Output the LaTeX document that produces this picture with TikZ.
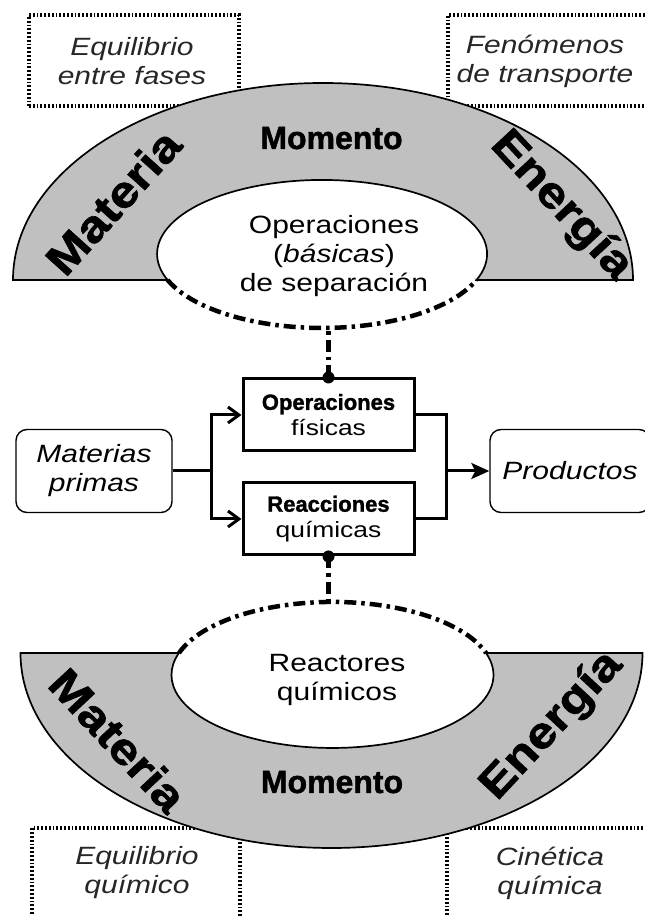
\documentclass[tikz,border=0pt]{standalone}
\usepackage{fontspec}
\setmainfont{Liberation Sans}[FakeStretch=1.2]
\newfontfamily\blackfont{Liberation Sans Bold}[FakeBold=1.5]
\newfontfamily\wideblack{Liberation Sans Bold}[FakeBold=1.5, FakeStretch=1.15]
\usetikzlibrary{arrows.meta,positioning}
\definecolor{bandgray}{RGB}{192,192,192}

\begin{document}
\begin{tikzpicture}[x=1pt,y=1pt,
  band/.style = {draw, fill=bandgray, line width=1.7pt},
  rim/.style = {line width=4.5pt, dash pattern=on 12pt off 5pt on 3.5pt off 5pt},
  dotbox/.style = {draw, line width=3.2pt, dash pattern=on 1.8pt off 2pt, inner sep=0pt},
  note/.style = {align=center, text=black!85, font=\fontsize{25}{29}\selectfont\itshape},
  bigword/.style = {font=\wideblack\fontsize{44}{44}\selectfont},
  midword/.style = {font=\blackfont\fontsize{32}{32}\selectfont, anchor=base},
  inner/.style = {align=center, font=\fontsize{25}{29}\selectfont},
  proc/.style = {draw, line width=3pt, minimum width=171pt, minimum height=72pt, inner sep=0pt, align=center, font=\fontsize{22}{26}\selectfont},
  term/.style = {draw, line width=1.4pt, rounded corners=11pt, minimum height=83pt, inner sep=0pt, align=center, font=\fontsize{25}{29}\selectfont\itshape},
  flow/.style = {line width=3pt},
  >={Straight Barb[length=11pt,width=16pt]}
]
\useasboundingbox (0,0) rectangle (645,916);
\clip (0,0) rectangle (645,916);

% cajas punteadas
\node[dotbox, minimum width=210pt, minimum height=91pt] (fasesbox) at (134,855.5) {};
\node[dotbox, minimum width=260pt, minimum height=91pt] (transpbox) at (578,855.5) {};
\node[dotbox, minimum width=208pt, minimum height=108pt] (eqqbox) at (136,34) {};
\node[dotbox, minimum width=253pt, minimum height=108pt] (cinbox) at (573.5,34) {};
\node[note] (fases) at (132,855) {Equilibrio\\entre fases};
\node[note] (transp) at (545,855) {Fenómenos\\de transporte};
\node[note] (eqq) at (137,43) {Equilibrio\\químico};
\node[note] (cin) at (550,43) {Cinética\\química};

% banda superior
\draw[band] (13,636) arc[start angle=180, end angle=0, x radius=310, y radius=197]
  -- (476.5,636) arc[start angle=-20.6, end angle=200.6, x radius=165, y radius=74] -- cycle;
\draw[rim] (167.6,636) arc[start angle=200.6, end angle=339.4, x radius=165, y radius=74];
\node[inner] (sep) at (334,660) {Operaciones\\(\textit{básicas})\\de separación};
\node[midword] (momtop) at (331.5,767) {Momento};
\node[bigword, rotate=48] (mattop) at (113,714) {Materia};
\node[bigword, rotate=-47] (enetop) at (561,710) {Energía};

% banda inferior
\draw[band] (20.5,263) arc[start angle=180, end angle=360, x radius=311, y radius=195]
  -- (486,263) arc[start angle=17.5, end angle=-197.5, x radius=161, y radius=73] -- cycle;
\draw[rim] (179,263) arc[start angle=162.5, end angle=17.5, x radius=161, y radius=73];
\node[inner] (reac) at (337,236) {Reactores\\químicos};
\node[midword] (mombot) at (332,123) {Momento};
\node[bigword, rotate=-47] (matbot) at (118,176) {Materia};
\node[bigword, rotate=47] (enebot) at (552,190) {Energía};

% proceso
\node[proc] (ops) at (328.5,501) {{\blackfont\fontsize{22}{26}\selectfont Operaciones}\\físicas};
\node[proc] (rea) [below of=ops, node distance=104pt] {{\blackfont\fontsize{22}{26}\selectfont Reacciones}\\químicas};
\node[term, minimum width=156pt] (mat) at (94,445) {Materias\\primas};
\node[term, minimum width=160pt] (prod) at (570,445) {Productos};

\coordinate (split) at (211,445);
\coordinate (merge) at (446,445);
\draw[flow] (mat.east) -- (split);
\draw[flow, ->] (split) |- (ops.west);
\draw[flow, ->] (split) |- (rea.west);
\draw[flow] (ops.east) -| (merge);
\draw[flow] (rea.east) -| (merge);
\draw[flow, -{Stealth[length=18pt,width=16pt,inset=4pt]}] (merge) -- (prod.west);

\coordinate (sepbot) at (328.5,588);
\coordinate (reactop) at (328.5,314);
\draw[rim] (ops.north) -- (sepbot);
\draw[rim] (rea.south) -- (reactop);
\fill (ops.north) circle (6pt);
\fill (rea.south) circle (6pt);
\end{tikzpicture}
\end{document}
